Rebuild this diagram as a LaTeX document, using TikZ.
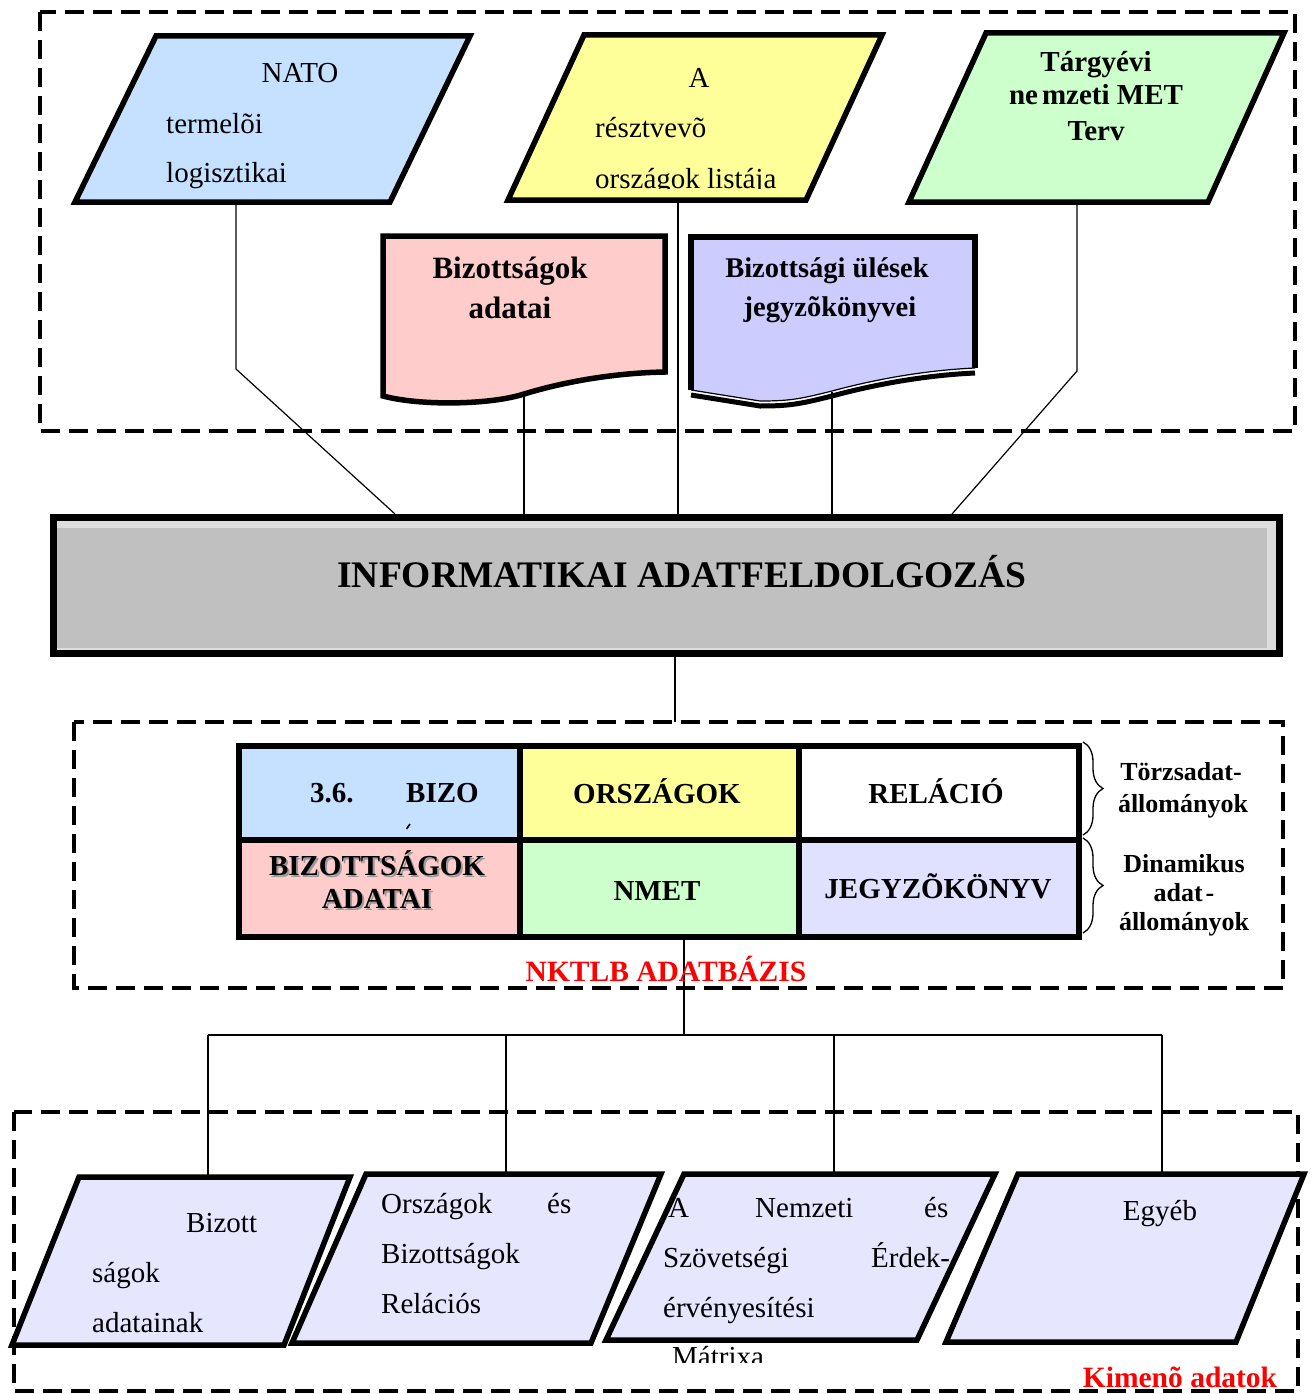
\documentclass[tikz,border=0pt]{standalone}
\usepackage{fontspec}
\setmainfont{Liberation Serif}[
  UprightFont={Liberation Serif},
  BoldFont={Liberation Serif Bold},
  ItalicFont={Liberation Serif Italic},
  BoldItalicFont={Liberation Serif Bold Italic}]
\usetikzlibrary{decorations.pathreplacing}

\definecolor{natoblue}{RGB}{198,224,255}
\definecolor{paleyellow}{RGB}{255,255,153}
\definecolor{palegreen}{RGB}{204,255,204}
\definecolor{palepink}{RGB}{255,204,204}
\definecolor{palelilac}{RGB}{204,204,255}
\definecolor{outlilac}{RGB}{230,230,255}
\definecolor{tablelilac}{RGB}{224,224,255}
\definecolor{boxgray}{RGB}{192,192,192}
\definecolor{boxlight}{RGB}{221,221,221}

\tikzset{
  dashframe/.style={line width=3.5pt, dash pattern=on 19pt off 9pt},
  outline/.style={draw=black, line width=5.5pt, line join=miter},
  wire/.style={line width=1.2pt},
  grid line/.style={line width=6pt},
  reg/.style={font=\fontsize{29}{34}\selectfont, inner sep=0pt},
  bld/.style={font=\fontsize{29}{34}\selectfont\bfseries, inner sep=0pt},
  bldsmall/.style={font=\fontsize{26}{30}\selectfont\bfseries, inner sep=0pt},
  heading/.style={font=\fontsize{37.5}{40}\selectfont\bfseries, inner sep=0pt},
  redlabel/.style={font=\fontsize{29.5}{32}\selectfont\bfseries, text=red, inner sep=0pt},
  bracket/.style={decorate, decoration={brace, amplitude=20pt}, line width=1.3pt},
}

\begin{document}
\begin{tikzpicture}[x=1pt,y=-1pt]
\useasboundingbox (0,0) rectangle (1313,1394);

% ---------- dashed grouping frames ----------
\draw[dashframe] (40,12) rectangle (1295,431);
\draw[dashframe] (74,722) rectangle (1283,988);
\draw[dashframe] (14,1112) rectangle (1298,1391);

% ---------- connection points ----------
\coordinate (natoB) at (236,202);
\coordinate (natoK) at (236,369);
\coordinate (pinkB) at (524,396);
\coordinate (yelB)  at (678,200);
\coordinate (lilB)  at (832,392);
\coordinate (grnB)  at (1077,202);
\coordinate (grnK)  at (1077,371);
\coordinate (infoA) at (395,514);
\coordinate (infoB) at (524,514);
\coordinate (infoC) at (678,514);
\coordinate (infoD) at (832,514);
\coordinate (infoE) at (952,514);
\coordinate (infoOut) at (675,657);
\coordinate (dbTop) at (675,722);
\coordinate (tblOut) at (684,937);
\coordinate (hub) at (684,1035);
\coordinate (hubL) at (208,1035);
\coordinate (hubR) at (1162,1035);
\coordinate (out1) at (208,1177);
\coordinate (out2) at (506,1176);
\coordinate (out3) at (834,1176);
\coordinate (out4) at (1162,1174);

% ---------- connectors ----------
\draw[wire] (natoB) -- (natoK) -- (infoA);
\draw[wire] (pinkB) -- (infoB);
\draw[wire] (yelB) -- (infoC);
\draw[wire] (lilB) -- (infoD);
\draw[wire] (grnB) -- (grnK) -- (infoE);
\draw[wire] (infoOut) -- (dbTop);
\draw[wire] (tblOut) -- (hub);
\draw[wire] (hubL) -- (hubR);
\draw[wire] (hubL) -- (out1);
\draw[wire] (hub -| out2) -- (out2);
\draw[wire] (hub -| out3) -- (out3);
\draw[wire] (hubR) -- (out4);

% ---------- input parallelograms ----------
\filldraw[outline, fill=natoblue] (156,36) -- (470,36) -- (390,202) -- (75,202) -- cycle;
\node[reg, anchor=base] (tNato) at (300,83) {NATO};
\node[reg, anchor=base west] (tNato2) at (166,133) {termelõi};
\node[reg, anchor=base west] (tNato3) at (166,182) {logisztikai};

\filldraw[outline, fill=paleyellow] (584,35) -- (882,35) -- (806,200) -- (508,200) -- cycle;
\begin{scope}
  \clip (500,40) rectangle (900,188);
  \node[reg, anchor=base] (tList1) at (699,88) {A};
  \node[reg, anchor=base west] (tList2) at (595,138) {résztvevõ};
  \node[reg, anchor=base west] (tList3) at (595,188) {országok listája};
\end{scope}

\filldraw[outline, fill=palegreen] (986,33) -- (1284,33) -- (1208,202) -- (909,202) -- cycle;
\node[bld, anchor=base] (tPlan1) at (1096,72) {Tárgyévi};
\node[bld, anchor=base] (tPlan2) at (1096,105) {ne\kern4pt mzeti MET};
\node[bld, anchor=base] (tPlan3) at (1096,141) {Terv};

% ---------- input documents ----------
\filldraw[outline, fill=palepink] (383,236) -- (665,236) -- (665,372)
  .. controls (610,373) and (560,383) .. (524,394)
  .. controls (490,405) and (420,406) .. (383,396) -- cycle;
\node[bld, font=\fontsize{31}{34}\selectfont\bfseries, anchor=base] (tDoc1) at (510,278) {Bizottságok};
\node[bld, font=\fontsize{31}{34}\selectfont\bfseries, anchor=base] (tDoc2) at (510,318) {adatai};

\fill[palelilac] (691,237) -- (975,237) -- (975,368)
  .. controls (930,370) and (880,378) .. (832,391)
  .. controls (800,399) and (790,401) .. (760,401) -- (691,390) -- cycle;
\draw[outline] (691,390) -- (691,237) -- (975,237) -- (975,368);
\draw[line width=1.2pt] (975,368)
  .. controls (930,370) and (880,378) .. (832,391)
  .. controls (800,399) and (790,401) .. (760,401) -- (691,390);
\draw[line width=5pt, shift={(0,5)}] (975,368)
  .. controls (930,370) and (880,378) .. (832,391)
  .. controls (800,399) and (790,401) .. (760,401) -- (691,390);
\node[bld, font=\fontsize{28.5}{34}\selectfont\bfseries, anchor=base] (tDoc3) at (827,277) {Bizottsági ülések};
\node[bld, font=\fontsize{28.5}{34}\selectfont\bfseries, anchor=base] (tDoc4) at (830,316) {jegyzõkönyvei};

% ---------- processing block ----------
\node[draw=black, line width=7pt, fill=boxlight, minimum width=1226pt,
      minimum height=136pt, inner sep=0pt] (info) at (666.5,585.5) {};
\fill[boxgray] (57,528) rectangle (1267,648);
\node[heading, anchor=base] (tInfo) at (682,587) {INFORMATIKAI ADATFELDOLGOZÁS};

% ---------- database table ----------
\fill[natoblue]   (239,746) rectangle (520,840);
\fill[paleyellow] (520,746) rectangle (799,840);
\fill[white]      (799,746) rectangle (1079,840);
\fill[palepink]   (239,840) rectangle (520,937);
\fill[palegreen]  (520,840) rectangle (799,937);
\fill[tablelilac] (799,840) rectangle (1079,937);
\draw[grid line] (239,746) rectangle (1079,937);
\draw[grid line] (239,840) -- (1079,840);
\draw[grid line] (520,746) -- (520,937);
\draw[grid line] (799,746) -- (799,937);

\node[bld, anchor=base west] (c11a) at (310,802) {3.6.};
\node[bld, anchor=base west] (c11b) at (406,802) {BIZO};
\draw[line width=1.6pt] (406.5,829) -- (410,824);
\node[bld, anchor=base] (c12) at (657,803) {ORSZÁGOK};
\node[bld, anchor=base] (c13) at (936,803) {RELÁCIÓ};
\node[bld, anchor=base, text=black!40] at (379,877) {BIZOTTSÁGOK};
\node[bld, anchor=base, text=black!40] at (379,910) {ADATAI};
\node[bld, anchor=base] (c21a) at (377,875) {BIZOTTSÁGOK};
\node[bld, anchor=base] (c21b) at (377,908) {ADATAI};
\node[bld, anchor=base] (c22) at (657,900) {NMET};
\node[bld, anchor=base] (c23) at (938,898) {JEGYZÕKÖNYV};

\draw[bracket] (1083,742) -- (1083,835);
\draw[bracket] (1083,838) -- (1083,933);
\node[bldsmall, anchor=base] (tMaster1) at (1181,780) {Törzsadat-};
\node[bldsmall, anchor=base] (tMaster2) at (1183,812) {állományok};
\node[bldsmall, anchor=base] (tDyn1) at (1184,872) {Dinamikus};
\node[bldsmall, anchor=base] (tDyn2) at (1184,901) {adat\kern3pt-};
\node[bldsmall, anchor=base] (tDyn3) at (1184,930) {állományok};

\node[redlabel, anchor=base] (tDb) at (666,981) {NKTLB ADATBÁZIS};

% ---------- output parallelograms ----------
\filldraw[outline, fill=outlilac] (79,1177) -- (350,1177) -- (284,1345) -- (12,1345) -- cycle;
\node[reg, anchor=base west] (o1a) at (186,1232) {Bizott};
\node[reg, anchor=base west] (o1b) at (92,1282) {ságok};
\node[reg, anchor=base west] (o1c) at (92,1332) {adatainak};

\filldraw[outline, fill=outlilac] (366,1174) -- (661,1174) -- (591,1343) -- (292,1343) -- cycle;
\node[reg, anchor=base west] (o2a) at (381,1213) {Országok};
\node[reg, anchor=base west] (o2b) at (547,1213) {és};
\node[reg, anchor=base west] (o2c) at (381,1263) {Bizottságok};
\node[reg, anchor=base west] (o2d) at (381,1313) {Relációs};

\filldraw[outline, fill=outlilac] (684,1174) -- (995,1174) -- (917,1340) -- (606,1340) -- cycle;
\node[reg, anchor=base west] (o3a) at (668,1217) {A};
\node[reg, anchor=base west] (o3b) at (755,1217) {Nemzeti};
\node[reg, anchor=base west] (o3c) at (924,1217) {és};
\node[reg, anchor=base west] (o3d) at (663,1267) {Szövetségi};
\node[reg, anchor=base west] (o3e) at (871,1267) {Érdek-};
\node[reg, anchor=base west] (o3f) at (663,1317) {érvényesítési};
\begin{scope}
  \clip (650,1300) rectangle (820,1362);
  \node[reg, anchor=base west] (o3g) at (672,1366) {Mátrixa};
\end{scope}

\filldraw[outline, fill=outlilac] (1018,1174) -- (1304,1174) -- (1236,1342) -- (946,1342) -- cycle;
\node[reg, anchor=base] (o4) at (1160,1220) {Egyéb};

\node[bld, text=red, font=\fontsize{29.5}{34}\selectfont\bfseries, anchor=base] (tOut) at (1180,1387) {Kimenõ adatok};
\end{tikzpicture}
\end{document}
